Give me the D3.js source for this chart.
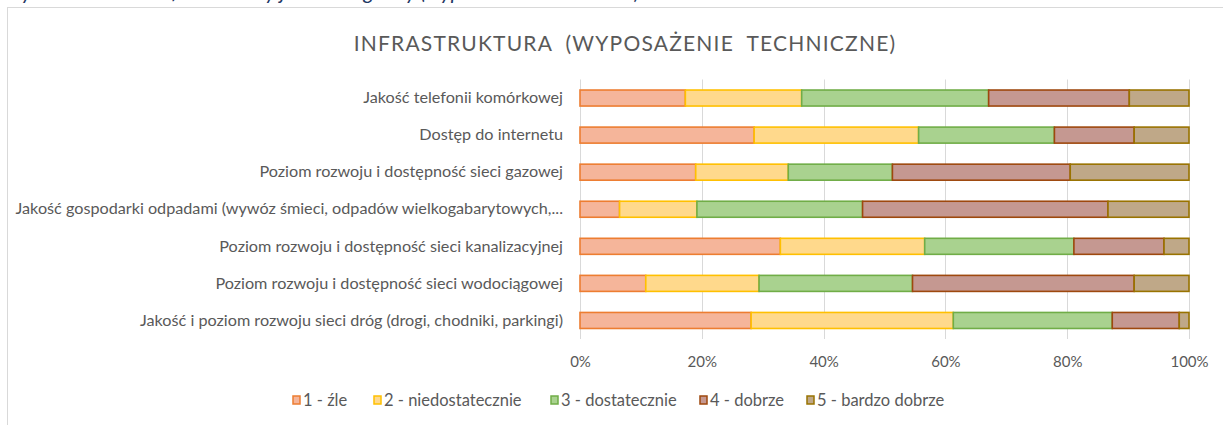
<!DOCTYPE html>
<html>
<head>
<meta charset="utf-8">
<script src="https://cdn.jsdelivr.net/npm/d3@7"></script>
<style>
  body { margin: 0; background: #fff; }
  svg { display: block; }
</style>
</head>
<body>
<svg id="chart"></svg>
<script>
var width = 1223, height = 425;
var margin = {top: 79.5, left: 580, plotW: 609, plotH: 259.5};

// data (percent shares per answer)
var categories = [
  "Jakość telefonii komórkowej",
  "Dostęp do internetu",
  "Poziom rozwoju i dostępność sieci gazowej",
  "Jakość gospodarki odpadami (wywóz śmieci, odpadów wielkogabarytowych,...",
  "Poziom rozwoju i dostępność sieci kanalizacyjnej",
  "Poziom rozwoju i dostępność sieci wodociągowej",
  "Jakość i poziom rozwoju sieci dróg (drogi, chodniki, parkingi)"
];
var seriesNames = ["1 - źle", "2 - niedostatecznie", "3 - dostatecznie", "4 - dobrze", "5 - bardzo dobrze"];
var zle = [17.3, 28.6, 19.0, 6.5, 32.9, 10.8, 28.1];
var niedost = [19.1, 27.0, 15.2, 12.7, 23.7, 18.6, 33.2];
var dost = [30.7, 22.3, 17.1, 27.2, 24.5, 25.2, 26.1];
var dobrze = [23.1, 13.1, 29.2, 40.3, 14.8, 36.4, 11.0];
var bdobrze = [9.8, 9.0, 19.5, 13.3, 4.1, 9.0, 1.6];
var xTicks = [0, 0.2, 0.4, 0.6, 0.8, 1];

var fills = ["#F5B59A", "#FFD98C", "#A9D28F", "#C59891", "#BFA888"];
var strokes = ["#ED7D31", "#FFC000", "#70AD47", "#9E480E", "#997300"];
var textColor = "#595959";
var font = "Lato, 'Open Sans', sans-serif";

var rows = categories.map(function (c, i) {
  return {cat: c, s0: zle[i], s1: niedost[i], s2: dost[i], s3: dobrze[i], s4: bdobrze[i]};
});
var stacked = d3.stack()
    .keys(["s0", "s1", "s2", "s3", "s4"])
    .offset(d3.stackOffsetExpand)(rows);

var svg = d3.select("#chart").attr("width", width).attr("height", height);

// caption above the chart frame, mostly cut off by the page edge
svg.append("text")
    .attr("x", 2).attr("y", -1)
    .attr("font-family", font)
    .attr("font-style", "italic")
    .attr("font-size", 21)
    .attr("fill", "#1F3864")
    .text("Wykres 9. Ocena infrastruktury jednostki gminy (wyposażenie techniczne)");

// chart frame
svg.append("rect")
    .attr("x", 7.5).attr("y", 7.5)
    .attr("width", 1400).attr("height", 600)
    .attr("fill", "#fff")
    .attr("stroke", "#D9D9D9");

svg.append("text")
    .attr("x", 625).attr("y", 51)
    .attr("text-anchor", "middle")
    .attr("font-family", font)
    .attr("font-size", 21)
    .attr("letter-spacing", 1.2)
    .style("white-space", "pre")
    .attr("fill", textColor)
    .text("INFRASTRUKTURA  (WYPOSAŻENIE  TECHNICZNE)");

var x = d3.scaleLinear().domain([0, 1]).range([margin.left, margin.left + margin.plotW]);
var y = d3.scaleBand().domain(categories)
    .range([margin.top, margin.top + margin.plotH])
    .paddingInner(0.568).paddingOuter(0.284);

// gridlines
svg.append("g")
    .selectAll("line")
    .data(xTicks)
    .join("line")
    .attr("x1", function (d) { return Math.round(x(d)) + 0.5; })
    .attr("x2", function (d) { return Math.round(x(d)) + 0.5; })
    .attr("y1", margin.top)
    .attr("y2", margin.top + margin.plotH)
    .attr("stroke", "#D9D9D9")
    .attr("stroke-width", 1);

// x axis labels
var xAxis = svg.append("g")
    .attr("transform", "translate(0," + (margin.top + margin.plotH) + ")")
    .call(d3.axisBottom(x).tickValues(xTicks).tickFormat(d3.format(".0%")).tickSize(0).tickPadding(17));
xAxis.select(".domain").remove();
xAxis.selectAll("text")
    .attr("font-family", font)
    .attr("font-size", 15)
    .attr("fill", textColor);

// category labels
var yAxis = svg.append("g")
    .attr("transform", "translate(" + margin.left + ",0)")
    .call(d3.axisLeft(y).tickSize(0).tickPadding(17));
yAxis.select(".domain").remove();
yAxis.selectAll("text")
    .attr("font-family", font)
    .attr("font-size", 16.2)
    .attr("fill", textColor);

// bars
svg.append("g")
    .selectAll("g")
    .data(stacked)
    .join("g")
    .attr("fill", function (d, i) { return fills[i]; })
    .attr("stroke", function (d, i) { return strokes[i]; })
    .attr("stroke-width", 1.6)
    .selectAll("rect")
    .data(function (d) { return d; })
    .join("rect")
    .attr("x", function (d) { return x(d[0]); })
    .attr("y", function (d) { return y(d.data.cat); })
    .attr("width", function (d) { return x(d[1]) - x(d[0]); })
    .attr("height", y.bandwidth());

// legend
var legendX = [293, 374, 551, 700, 807];
var legend = svg.append("g")
    .selectAll("g")
    .data(seriesNames)
    .join("g")
    .attr("transform", function (d, i) { return "translate(" + legendX[i] + ",396)"; });
legend.append("rect")
    .attr("width", 7).attr("height", 8)
    .attr("fill", function (d, i) { return fills[i]; })
    .attr("stroke", function (d, i) { return strokes[i]; })
    .attr("stroke-width", 1.5);
legend.append("text")
    .attr("x", 10).attr("y", 10)
    .attr("font-family", font)
    .attr("font-size", 16.5)
    .attr("fill", textColor)
    .text(function (d) { return d; });
</script>
</body>
</html>
